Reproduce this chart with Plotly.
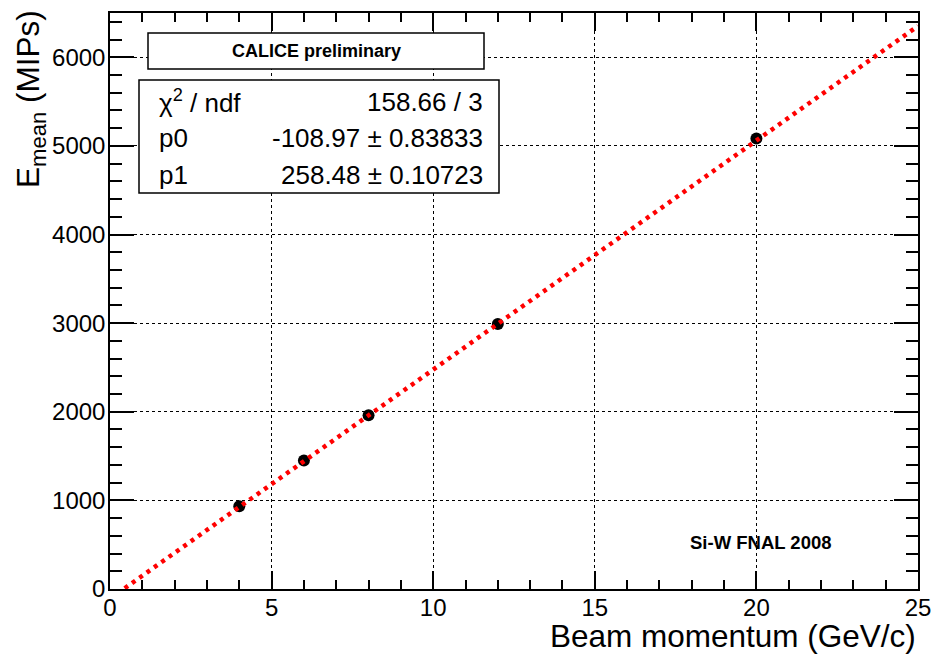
import numpy as np
import plotly.graph_objects as go

# Measured mean energy vs beam momentum
beam_momentum = [4, 6, 8, 12, 20]          # GeV/c
e_mean = [935, 1450, 1960, 2990, 5085]     # MIPs

# Linear fit result: E = p0 + p1 * p
p0, p0_err = -108.97, 0.83833
p1, p1_err = 258.48, 0.10723
chi2, ndf = 158.66, 3

x_range = [0, 25]
y_range = [0, 6500]
x_ticks = [0, 5, 10, 15, 20, 25]
y_ticks = [0, 1000, 2000, 3000, 4000, 5000, 6000]

FONT = "Liberation Sans, Arial, Helvetica, sans-serif"

fit_x = np.array(x_range, dtype=float)
fit_y = p0 + p1 * fit_x

fig = go.Figure()

fig.add_trace(go.Scatter(
    x=beam_momentum, y=e_mean, mode="markers",
    marker=dict(color="black", size=12, line=dict(width=0)),
    showlegend=False, hoverinfo="x+y",
))

fig.add_trace(go.Scatter(
    x=fit_x, y=fit_y, mode="lines",
    line=dict(color="#ff0000", width=4.5, dash="4px,5px"),
    showlegend=False, hoverinfo="skip",
))

axis_common = dict(
    showline=True, linecolor="black", linewidth=1.5, mirror="allticks",
    ticks="inside", tickcolor="black", tickwidth=1.5,
    showgrid=True, gridcolor="black", gridwidth=1, griddash="dot",
    zeroline=False, automargin=False,
    tickfont=dict(family=FONT, size=24, color="black"),
)

fig.update_xaxes(
    range=x_range, tickvals=x_ticks, ticklen=18, ticklabelstandoff=-4,
    minor=dict(ticks="inside", ticklen=9, dtick=1, tickcolor="black", tickwidth=1.5, showgrid=False),
    **axis_common,
)
fig.update_yaxes(
    range=y_range, tickvals=y_ticks, ticklen=24, ticklabelstandoff=-2,
    minor=dict(ticks="inside", ticklen=12, dtick=200, tickcolor="black", tickwidth=1.5, showgrid=False),
    **axis_common,
)

# Pixel helpers for the plot frame (left 110, right 918, top 13, bottom 589)
L, R, T, B = 110, 918, 13, 589
def px(X):
    return (X - L) / (R - L)
def py(Y):
    return (B - Y) / (B - T)

shapes = [
    dict(type="rect", xref="paper", yref="paper",
         x0=px(148), x1=px(484), y0=py(69), y1=py(33),
         line=dict(color="black", width=1.5), fillcolor="white", layer="above"),
    dict(type="rect", xref="paper", yref="paper",
         x0=px(139), x1=px(499), y0=py(193), y1=py(80),
         line=dict(color="black", width=1.5), fillcolor="white", layer="above"),
]

def txt(x, y, s, size, xanchor="left", bold=False, **kw):
    return dict(xref="paper", yref="paper", x=x, y=y, text=("<b>%s</b>" % s) if bold else s,
                showarrow=False, xanchor=xanchor, yanchor="middle",
                font=dict(family=FONT, size=size, color="black"), **kw)

stat_rows = [
    ("χ<sup>2</sup> / ndf", "%.2f / %d" % (chi2, ndf), 102),
    ("p0", "%.2f ± %.5f" % (p0, p0_err), 138),
    ("p1", "%.2f ± %.5f" % (p1, p1_err), 175),
]

annotations = [
    txt(px(316), py(51), "CALICE preliminary", 18, xanchor="center", bold=True),
    txt(px(761), py(542), "Si-W FNAL 2008", 18.5, xanchor="center", bold=True),
    txt(1.0, py(636), "Beam momentum (GeV/c)", 31.5, xanchor="right"),
    dict(xref="paper", yref="paper", x=px(31), y=py(8),
         text="E<sub>mean</sub> (MIPs)", showarrow=False, textangle=-90,
         xanchor="center", yanchor="top",
         font=dict(family=FONT, size=31.5, color="black")),
]
for label, value, yrow in stat_rows:
    annotations.append(txt(px(157), py(yrow), label, 26, xanchor="left"))
    annotations.append(txt(px(485), py(yrow), value, 26, xanchor="right"))

fig.update_layout(
    width=936, height=662,
    margin=dict(l=L, r=936 - R, t=T, b=662 - B),
    paper_bgcolor="white", plot_bgcolor="white",
    shapes=shapes, annotations=annotations,
    font=dict(family=FONT, color="black"),
)

fig.write_html("out.html")
